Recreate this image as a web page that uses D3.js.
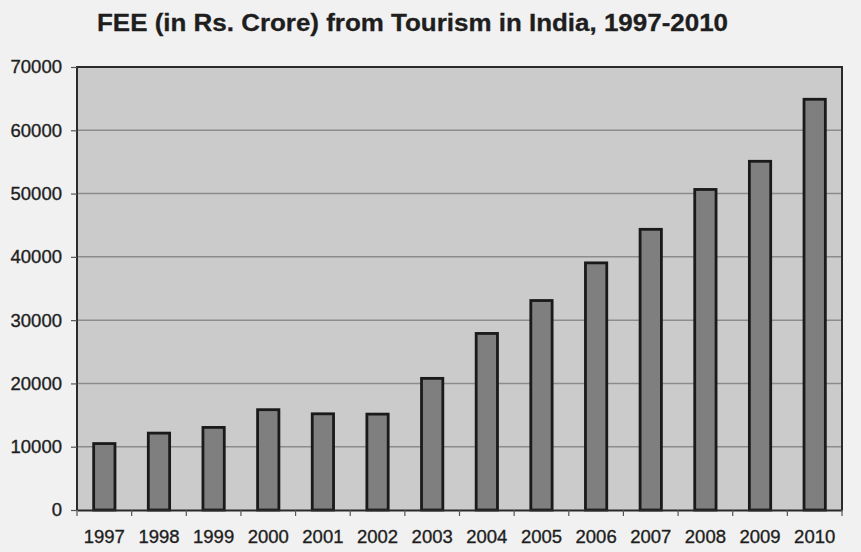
<!DOCTYPE html>
<html>
<head>
<meta charset="utf-8">
<script src="https://cdn.jsdelivr.net/npm/d3@7"></script>
<style>
  html, body { margin: 0; padding: 0; background: #f1f1f1; }
  svg { display: block; }
  text { font-family: "Liberation Sans", Arial, sans-serif; fill: #1e1e1e; }
</style>
</head>
<body>
<svg id="chart" width="861" height="552"></svg>
<script>
// Foreign exchange earnings from tourism, Rs. crore
const years = ["1997","1998","1999","2000","2001","2002","2003","2004","2005","2006","2007","2008","2009","2010"];
const fee = [10500, 12150, 13050, 15850, 15200, 15150, 20800, 27900, 33100, 39050, 44350, 50650, 55100, 64900];
const yTicks = [0, 10000, 20000, 30000, 40000, 50000, 60000, 70000];
const titleText = "FEE (in Rs. Crore) from Tourism in India, 1997-2010";

const W = 861, H = 552;
const margin = { top: 67, right: 19, bottom: 42, left: 77 };
const iw = W - margin.left - margin.right;
const ih = H - margin.top - margin.bottom;

const svg = d3.select("#chart");

svg.append("rect").attr("width", W).attr("height", H).attr("fill", "#f1f1f1");

svg.append("text")
  .attr("x", 97).attr("y", 31)
  .attr("font-size", 23.5).attr("font-weight", "bold")
  .attr("textLength", 631).attr("lengthAdjust", "spacingAndGlyphs")
  .attr("stroke", "#1e1e1e").attr("stroke-width", 0.3)
  .text(titleText);

const x = d3.scaleBand().domain(years).range([0, iw]).paddingInner(0.61).paddingOuter(0.305);
const y = d3.scaleLinear().domain([0, 70000]).range([ih, 0]);

const g = svg.append("g").attr("transform", `translate(${margin.left},${margin.top})`);

// plot area
g.append("rect").attr("width", iw).attr("height", ih).attr("fill", "#cbcbcb");

// horizontal gridlines
g.selectAll("line.grid").data(yTicks.filter(d => d > 0 && d < 70000)).join("line")
  .attr("class", "grid")
  .attr("x1", 0).attr("x2", iw)
  .attr("y1", d => y(d)).attr("y2", d => y(d))
  .attr("stroke", "#8c8c8c").attr("stroke-width", 1.5);

// bars
g.selectAll("rect.bar").data(years).join("rect")
  .attr("class", "bar")
  .attr("x", d => x(d))
  .attr("width", x.bandwidth())
  .attr("y", (d, i) => y(fee[i]))
  .attr("height", (d, i) => ih - y(fee[i]))
  .attr("fill", "#7f7f7f")
  .attr("stroke", "#1a1a1a").attr("stroke-width", 2.8);

// plot frame (top, left, right)
g.append("path")
  .attr("d", `M0,${ih}V0H${iw}V${ih}`)
  .attr("fill", "none").attr("stroke", "#2a2a2a").attr("stroke-width", 2);

const labelStyle = sel => sel
  .attr("font-size", 18.5).attr("fill", "#1e1e1e")
  .attr("stroke", "#1e1e1e").attr("stroke-width", 0.35)
  .attr("font-family", "Liberation Sans, Arial, sans-serif");

// y axis
const yAxis = g.append("g")
  .call(d3.axisLeft(y).tickValues(yTicks).tickFormat(d3.format("d")).tickSize(6).tickPadding(9));
yAxis.select(".domain").remove();
yAxis.selectAll(".tick line").attr("stroke", "#555").attr("stroke-width", 1.2);
yAxis.selectAll(".tick text").call(labelStyle);

// x axis with ticks on category boundaries
const xAxis = g.append("g").attr("transform", `translate(0,${ih})`)
  .call(d3.axisBottom(x).tickSize(0).tickPadding(20));
xAxis.select(".domain").attr("stroke", "#2a2a2a").attr("stroke-width", 2);
xAxis.selectAll(".tick text").call(labelStyle);
const step = x.step();
xAxis.selectAll("line.bound").data(d3.range(years.length + 1)).join("line")
  .attr("class", "bound")
  .attr("x1", i => i * step).attr("x2", i => i * step)
  .attr("y1", 0).attr("y2", 6)
  .attr("stroke", "#555").attr("stroke-width", 1.2);
</script>
</body>
</html>
